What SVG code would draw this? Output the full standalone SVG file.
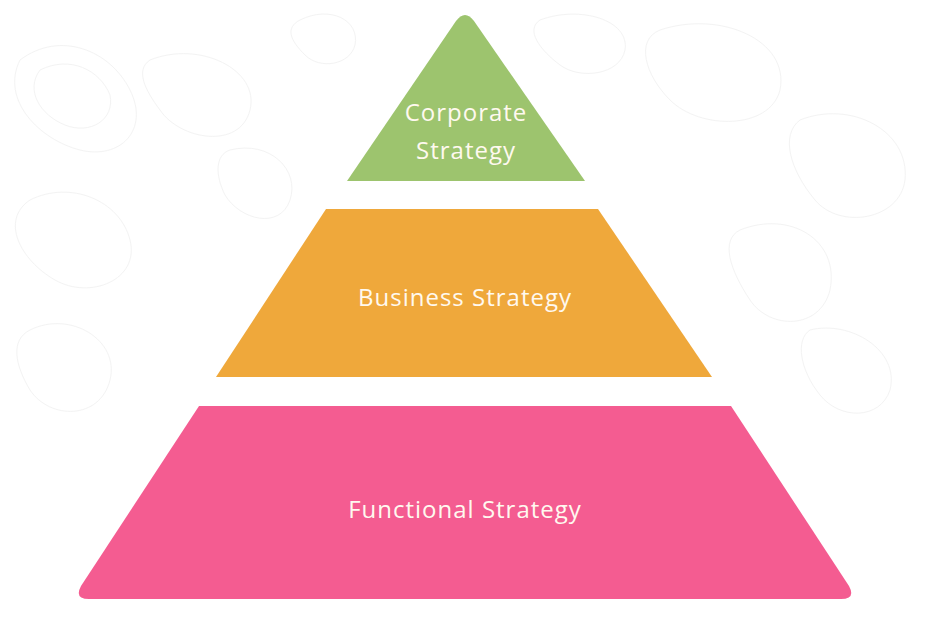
<svg xmlns="http://www.w3.org/2000/svg" width="930" height="620" viewBox="0 0 930 620">
<style>
.lbl{font-family:"Open Sans","Lato","Liberation Sans",sans-serif;font-size:24px;letter-spacing:1px;fill:#FFF9EF;text-anchor:middle}
.topo{fill:none;stroke:#F3F3F3;stroke-width:1}
</style>
<rect width="930" height="620" fill="#FFFFFF"/>
<g id="background">
<path class="topo" d="M20 60 C60 30 110 50 130 90 C150 130 120 160 80 150 C40 140 0 100 20 60 Z"/>
<path class="topo" d="M40 70 C70 55 100 70 110 95 C115 120 90 135 65 125 C40 115 25 90 40 70 Z"/>
<path class="topo" d="M150 60 C200 40 260 70 250 110 C240 150 180 140 160 110 C145 90 135 70 150 60 Z"/>
<path class="topo" d="M230 150 C270 140 300 170 290 200 C280 230 240 220 225 195 C215 175 215 155 230 150 Z"/>
<path class="topo" d="M30 200 C70 180 120 200 130 240 C140 280 90 300 55 280 C20 260 0 220 30 200 Z"/>
<path class="topo" d="M660 30 C720 10 790 40 780 90 C770 130 700 130 670 100 C645 75 635 40 660 30 Z"/>
<path class="topo" d="M800 120 C850 100 910 130 905 180 C900 220 840 230 815 200 C790 170 780 135 800 120 Z"/>
<path class="topo" d="M740 230 C790 210 840 240 830 290 C820 330 770 330 750 300 C730 270 720 240 740 230 Z"/>
<path class="topo" d="M810 330 C850 320 900 350 890 390 C880 420 840 420 820 395 C800 370 795 340 810 330 Z"/>
<path class="topo" d="M30 330 C70 310 120 340 110 380 C100 420 50 420 30 390 C15 365 10 340 30 330 Z"/>
<path class="topo" d="M540 20 C580 5 630 20 625 50 C620 75 580 80 560 65 C540 50 525 30 540 20 Z"/>
<path class="topo" d="M300 20 C330 5 360 20 355 45 C350 65 320 70 305 55 C290 40 285 28 300 20 Z"/>
</g>
<g id="corporate">
<path d="M347 181 L456 21 Q465 9 474 21 L585 181 Z" fill="#9DC46E"/>
<text class="lbl" x="466" y="121">Corporate</text>
<text class="lbl" x="466" y="159">Strategy</text>
</g>
<g id="business">
<path d="M326 209 L598 209 L712 377 L216 377 Z" fill="#EFA83B"/>
<text class="lbl" x="465" y="306">Business Strategy</text>
</g>
<g id="functional">
<path d="M199 406 L731 406 L849 586 Q856 599 841 599 L89 599 Q74 599 81 586 Z" fill="#F45C91"/>
<text class="lbl" x="465" y="518">Functional Strategy</text>
</g>
<g id="connectors"></g>
</svg>
